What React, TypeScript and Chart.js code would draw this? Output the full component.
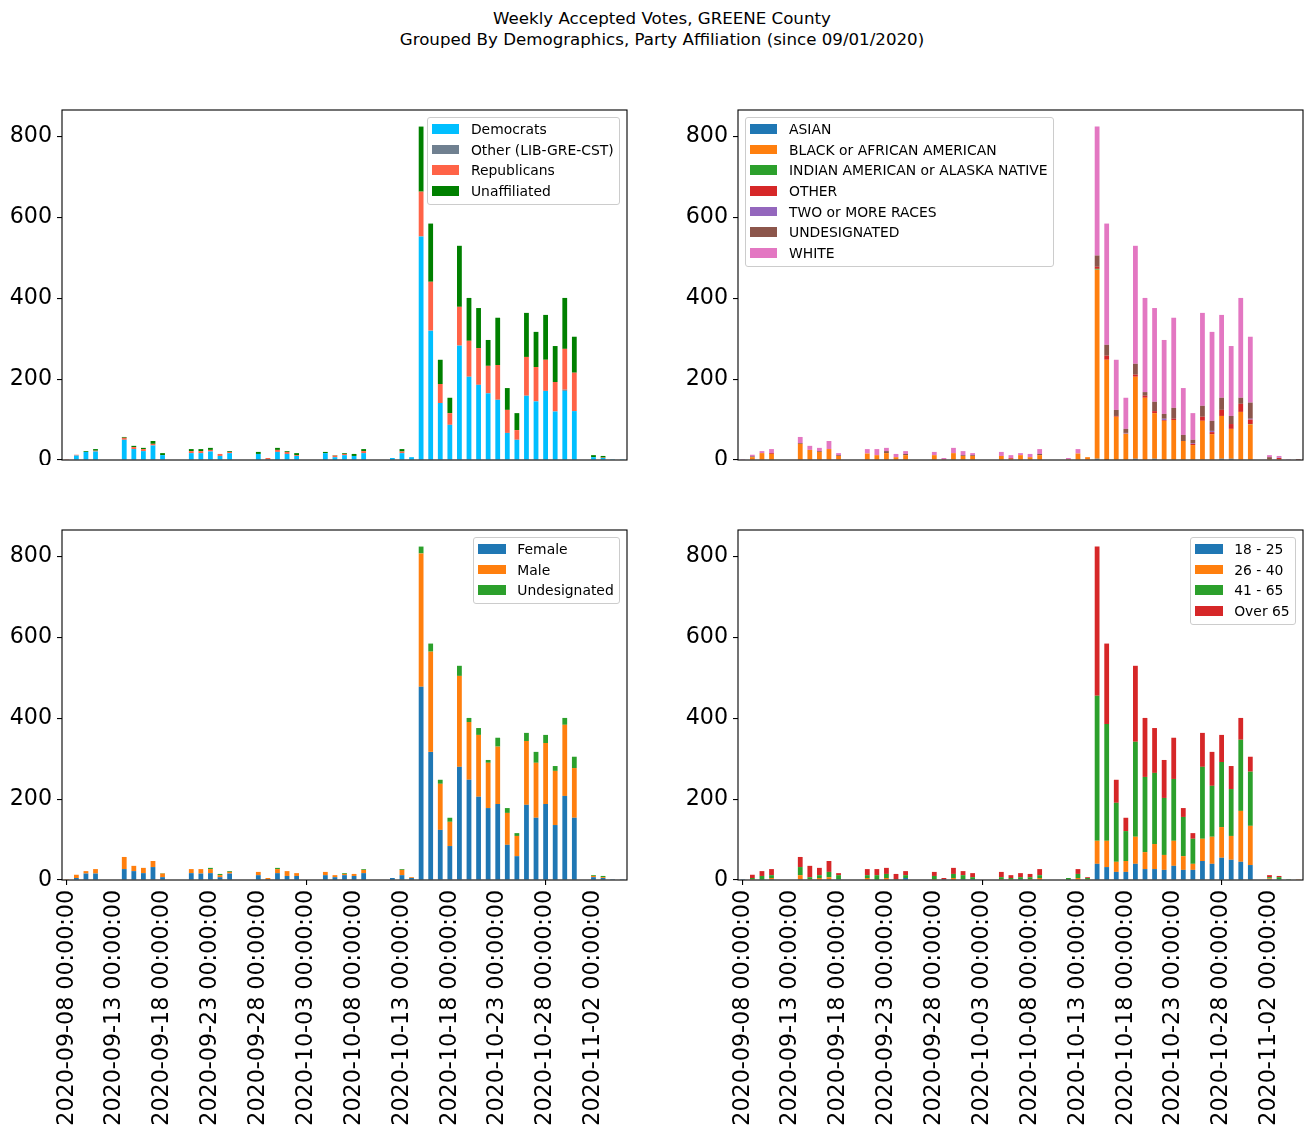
import React, { useEffect, useRef } from 'react';
import { Chart, registerables } from 'chart.js';

Chart.register(...registerables);

const FONT = 'DejaVu Sans';

const DATES = [
  '2020-09-08 00:00:00', '2020-09-09 00:00:00', '2020-09-10 00:00:00', '2020-09-11 00:00:00', '2020-09-12 00:00:00',
  '2020-09-13 00:00:00', '2020-09-14 00:00:00', '2020-09-15 00:00:00', '2020-09-16 00:00:00', '2020-09-17 00:00:00',
  '2020-09-18 00:00:00', '2020-09-19 00:00:00', '2020-09-20 00:00:00', '2020-09-21 00:00:00', '2020-09-22 00:00:00',
  '2020-09-23 00:00:00', '2020-09-24 00:00:00', '2020-09-25 00:00:00', '2020-09-26 00:00:00', '2020-09-27 00:00:00',
  '2020-09-28 00:00:00', '2020-09-29 00:00:00', '2020-09-30 00:00:00', '2020-10-01 00:00:00', '2020-10-02 00:00:00',
  '2020-10-03 00:00:00', '2020-10-04 00:00:00', '2020-10-05 00:00:00', '2020-10-06 00:00:00', '2020-10-07 00:00:00',
  '2020-10-08 00:00:00', '2020-10-09 00:00:00', '2020-10-10 00:00:00', '2020-10-11 00:00:00', '2020-10-12 00:00:00',
  '2020-10-13 00:00:00', '2020-10-14 00:00:00', '2020-10-15 00:00:00', '2020-10-16 00:00:00', '2020-10-17 00:00:00',
  '2020-10-18 00:00:00', '2020-10-19 00:00:00', '2020-10-20 00:00:00', '2020-10-21 00:00:00', '2020-10-22 00:00:00',
  '2020-10-23 00:00:00', '2020-10-24 00:00:00', '2020-10-25 00:00:00', '2020-10-26 00:00:00', '2020-10-27 00:00:00',
  '2020-10-28 00:00:00', '2020-10-29 00:00:00', '2020-10-30 00:00:00', '2020-10-31 00:00:00', '2020-11-01 00:00:00',
  '2020-11-02 00:00:00', '2020-11-03 00:00:00', '2020-11-04 00:00:00', '2020-11-05 00:00:00',
];

// Party affiliation
const DEMOCRATS = [
  0, 11, 20, 21, 0, 0, 50, 27, 22, 36,
  12, 0, 0, 17, 17, 21, 10, 17, 0, 0,
  15, 2, 20, 15, 10, 0, 0, 17, 7, 12,
  10, 17, 0, 0, 5, 17, 7, 553, 320, 141,
  87, 283, 206, 186, 165, 149, 67, 50, 159, 145,
  171, 120, 171, 121, 0, 7, 5, 2, 2,
];
const OTHER_PARTY = [
  0, 0, 0, 0, 0, 0, 0, 0, 0, 0,
  0, 0, 0, 0, 0, 0, 0, 0, 0, 0,
  0, 0, 0, 0, 0, 0, 0, 0, 0, 0,
  0, 0, 0, 0, 0, 0, 0, 0, 0, 0,
  0, 0, 0, 0, 0, 0, 0, 0, 0, 0,
  0, 0, 3, 0, 0, 0, 0, 0, 0,
];
const REPUBLICANS = [
  2, 2, 0, 2, 0, 0, 5, 5, 5, 4,
  0, 0, 0, 5, 5, 4, 5, 3, 0, 0,
  0, 3, 5, 5, 2, 0, 0, 0, 4, 3,
  0, 5, 0, 0, 0, 4, 0, 111, 121, 47,
  29, 96, 89, 91, 68, 86, 57, 24, 96, 85,
  77, 73, 101, 95, 0, 0, 1, 0, 0,
];
const UNAFFILIATED = [
  0, 0, 2, 4, 0, 0, 2, 3, 3, 7,
  5, 0, 0, 5, 5, 5, 0, 2, 0, 0,
  5, 0, 5, 2, 5, 0, 0, 3, 1, 2,
  5, 5, 0, 0, 0, 6, 0, 161, 144, 60,
  38, 151, 106, 99, 64, 117, 54, 42, 109, 87,
  111, 89, 126, 89, 0, 5, 4, 0, 0,
];

// Race
const ASIAN = [
  0, 0, 0, 0, 0, 0, 0, 0, 0, 0,
  0, 0, 0, 0, 0, 0, 0, 0, 0, 0,
  0, 0, 0, 0, 0, 0, 0, 0, 0, 0,
  0, 0, 0, 0, 0, 0, 0, 3, 1, 0,
  0, 3, 0, 3, 0, 0, 0, 0, 0, 0,
  3, 3, 0, 0, 0, 0, 0, 0, 0,
];
const BLACK = [
  0, 7, 17, 15, 0, 0, 40, 25, 20, 27,
  10, 0, 0, 16, 12, 17, 7, 12, 0, 0,
  12, 2, 17, 10, 10, 0, 0, 10, 3, 12,
  7, 12, 0, 0, 2, 16, 7, 468, 247, 107,
  65, 203, 154, 113, 97, 99, 47, 37, 97, 64,
  106, 74, 119, 88, 0, 2, 2, 0, 0,
];
const INDIAN = [
  0, 0, 0, 0, 0, 0, 0, 0, 0, 0,
  0, 0, 0, 0, 0, 0, 0, 0, 0, 0,
  0, 0, 0, 0, 0, 0, 0, 0, 0, 0,
  0, 0, 0, 0, 0, 0, 0, 2, 0, 0,
  0, 0, 0, 0, 0, 0, 0, 0, 0, 0,
  0, 0, 0, 1, 0, 0, 0, 0, 0,
];
const OTHER_RACE = [
  0, 0, 0, 2, 0, 0, 0, 0, 0, 0,
  0, 0, 0, 0, 0, 0, 0, 0, 0, 0,
  0, 0, 0, 0, 0, 0, 0, 0, 2, 0,
  0, 0, 0, 0, 0, 0, 0, 5, 10, 2,
  0, 5, 5, 5, 2, 3, 0, 3, 10, 5,
  15, 12, 20, 11, 0, 0, 3, 0, 1,
];
const TWO_OR_MORE = [
  0, 0, 0, 0, 0, 0, 0, 0, 0, 0,
  0, 0, 0, 0, 0, 0, 0, 0, 0, 0,
  0, 0, 0, 0, 0, 0, 0, 0, 0, 0,
  0, 0, 0, 0, 0, 0, 0, 0, 0, 0,
  2, 0, 0, 0, 3, 0, 0, 2, 0, 3,
  0, 0, 0, 2, 0, 0, 1, 0, 0,
];
const UNDESIGNATED_RACE = [
  0, 2, 0, 0, 0, 0, 2, 0, 2, 0,
  2, 0, 0, 0, 0, 5, 0, 3, 0, 0,
  0, 0, 0, 2, 2, 0, 0, 0, 0, 0,
  0, 3, 0, 0, 0, 0, 0, 28, 27, 15,
  10, 27, 9, 23, 12, 27, 15, 8, 27, 25,
  30, 20, 15, 40, 0, 5, 0, 0, 1,
];
const WHITE = [
  2, 4, 5, 10, 0, 0, 15, 10, 8, 20,
  5, 0, 0, 11, 15, 8, 8, 7, 0, 0,
  8, 3, 13, 10, 5, 0, 0, 10, 7, 5,
  8, 12, 0, 0, 3, 11, 0, 319, 300, 124,
  77, 292, 233, 232, 183, 223, 116, 66, 230, 220,
  205, 173, 247, 163, 0, 5, 4, 2, 0,
];

// Gender
const FEMALE = [
  0, 5, 16, 16, 0, 0, 27, 22, 17, 32,
  7, 0, 0, 17, 16, 17, 7, 16, 0, 0,
  12, 2, 17, 10, 10, 0, 0, 12, 7, 12,
  10, 17, 0, 0, 5, 12, 5, 478, 317, 124,
  84, 280, 248, 206, 178, 188, 87, 59, 186, 154,
  188, 136, 208, 154, 0, 7, 5, 2, 2,
];
const MALE = [
  2, 8, 6, 11, 0, 0, 30, 13, 13, 15,
  9, 0, 0, 10, 11, 10, 5, 4, 0, 0,
  8, 3, 10, 12, 7, 0, 0, 8, 5, 3,
  5, 8, 0, 0, 0, 13, 2, 330, 248, 114,
  60, 225, 143, 153, 112, 142, 79, 50, 158, 136,
  151, 134, 176, 123, 0, 3, 2, 0, 0,
];
const UNDESIGNATED_GENDER = [
  0, 0, 0, 0, 0, 0, 0, 0, 0, 0,
  1, 0, 0, 0, 0, 3, 3, 2, 0, 0,
  0, 0, 3, 0, 0, 0, 0, 0, 0, 2,
  0, 2, 0, 0, 0, 2, 0, 17, 20, 10,
  10, 25, 10, 17, 7, 22, 12, 7, 20, 27,
  20, 12, 17, 28, 0, 2, 3, 0, 0,
];

// Age
const AGE_18_25 = [
  2, 0, 0, 2, 0, 0, 2, 0, 0, 2,
  2, 0, 0, 0, 0, 0, 0, 5, 0, 0,
  0, 2, 0, 2, 2, 0, 0, 0, 0, 2,
  0, 0, 0, 0, 0, 0, 0, 40, 32, 20,
  20, 40, 27, 27, 25, 35, 25, 25, 47, 40,
  55, 50, 45, 37, 0, 2, 2, 0, 0,
];
const AGE_26_40 = [
  0, 2, 0, 3, 0, 0, 10, 2, 5, 5,
  0, 0, 0, 5, 0, 5, 0, 0, 0, 0,
  2, 0, 5, 0, 0, 0, 0, 2, 2, 0,
  2, 5, 0, 0, 0, 5, 2, 57, 65, 25,
  27, 67, 42, 62, 37, 62, 34, 15, 55, 67,
  76, 59, 126, 97, 0, 2, 0, 0, 2,
];
const AGE_41_65 = [
  0, 3, 10, 7, 0, 0, 20, 5, 7, 13,
  10, 0, 0, 7, 12, 10, 2, 7, 0, 0,
  8, 0, 10, 10, 5, 0, 0, 5, 3, 5,
  5, 7, 0, 0, 5, 10, 3, 359, 289, 146,
  74, 235, 186, 176, 141, 153, 97, 62, 178, 126,
  161, 116, 176, 134, 0, 3, 5, 2, 0,
];
const AGE_OVER_65 = [
  0, 8, 12, 15, 0, 0, 25, 28, 18, 27,
  5, 0, 0, 15, 15, 15, 13, 10, 0, 0,
  10, 3, 15, 10, 10, 0, 0, 13, 7, 10,
  8, 15, 0, 0, 0, 12, 2, 369, 199, 57,
  33, 188, 146, 111, 94, 102, 22, 14, 84, 84,
  67, 57, 54, 37, 0, 5, 3, 0, 0,
];

const Y_MAX = 866;
const Y_STEP = 200;

type Series = { label: string; color: string; data: number[] };

const PARTY: Series[] = [
  { label: 'Democrats', color: '#00bfff', data: DEMOCRATS },
  { label: 'Other (LIB-GRE-CST)', color: '#708090', data: OTHER_PARTY },
  { label: 'Republicans', color: '#ff6347', data: REPUBLICANS },
  { label: 'Unaffiliated', color: '#008000', data: UNAFFILIATED },
];
const RACE: Series[] = [
  { label: 'ASIAN', color: '#1f77b4', data: ASIAN },
  { label: 'BLACK or AFRICAN AMERICAN', color: '#ff7f0e', data: BLACK },
  { label: 'INDIAN AMERICAN or ALASKA NATIVE', color: '#2ca02c', data: INDIAN },
  { label: 'OTHER', color: '#d62728', data: OTHER_RACE },
  { label: 'TWO or MORE RACES', color: '#9467bd', data: TWO_OR_MORE },
  { label: 'UNDESIGNATED', color: '#8c564b', data: UNDESIGNATED_RACE },
  { label: 'WHITE', color: '#e377c2', data: WHITE },
];
const GENDER: Series[] = [
  { label: 'Female', color: '#1f77b4', data: FEMALE },
  { label: 'Male', color: '#ff7f0e', data: MALE },
  { label: 'Undesignated', color: '#2ca02c', data: UNDESIGNATED_GENDER },
];
const AGE: Series[] = [
  { label: '18 - 25', color: '#1f77b4', data: AGE_18_25 },
  { label: '26 - 40', color: '#ff7f0e', data: AGE_26_40 },
  { label: '41 - 65', color: '#2ca02c', data: AGE_41_65 },
  { label: 'Over 65', color: '#d62728', data: AGE_OVER_65 },
];

const framePlugin = {
  id: 'frame',
  afterDraw(chart: any) {
    const { ctx, chartArea: a } = chart;
    ctx.save();
    ctx.strokeStyle = '#000';
    ctx.lineWidth = 1.1;
    ctx.strokeRect(a.left, a.top, a.right - a.left, a.bottom - a.top);
    ctx.restore();
  },
};

function Panel({ series, showX, left, top }: { series: Series[]; showX: boolean; left: number; top: number }) {
  const ref = useRef<HTMLCanvasElement>(null);
  const height = showX ? 617 : 365;
  useEffect(() => {
    const chart = new Chart(ref.current as HTMLCanvasElement, {
      type: 'bar',
      data: {
        labels: DATES,
        datasets: series.map((s) => ({
          label: s.label,
          data: s.data,
          backgroundColor: s.color,
          borderWidth: 0,
          barPercentage: 0.5,
          categoryPercentage: 1.0,
        })),
      },
      options: {
        responsive: false,
        animation: false,
        layout: { padding: { left: 0, right: 5, top: 10, bottom: showX ? 0 : 5 } },
        plugins: {
          legend: { display: false },
          tooltip: { enabled: false },
        },
        scales: {
          x: {
            stacked: true,
            display: showX,
            offset: true,
            border: { display: false },
            grid: {
              display: true,
              drawOnChartArea: false,
              drawTicks: true,
              tickLength: 5,
              offset: false,
              lineWidth: 1.1,
              color: (c: any) => (c.index % 5 === 0 ? '#000' : 'rgba(0,0,0,0)'),
            },
            ticks: {
              autoSkip: false,
              maxRotation: 90,
              minRotation: 90,
              padding: 5,
              color: '#000',
              font: { family: FONT, size: 22.2 },
              callback: (_v: any, i: number) => (i % 5 === 0 ? DATES[i] : null),
            },
            afterFit: (s: any) => {
              s.height = showX ? 257 : 0;
              s.paddingLeft = 0;
              s.paddingRight = 0;
            },
          },
          y: {
            stacked: true,
            min: 0,
            max: Y_MAX,
            border: { display: false },
            grid: {
              display: true,
              drawOnChartArea: false,
              drawTicks: true,
              tickLength: 5,
              lineWidth: 1.1,
              color: '#000',
            },
            ticks: {
              stepSize: Y_STEP,
              includeBounds: false,
              padding: 5,
              color: '#000',
              font: { family: FONT, size: 22.2 },
            },
            afterFit: (s: any) => {
              s.width = 62;
              s.paddingTop = 0;
              s.paddingBottom = 0;
            },
          },
        },
      } as any,
      plugins: [framePlugin],
    });
    return () => chart.destroy();
  }, []);
  return (
    <canvas
      ref={ref}
      width={632}
      height={height}
      style={{ position: 'absolute', left, top, width: 632, height }}
    />
  );
}

function Legend({ items, pos }: { items: Series[]; pos: React.CSSProperties }) {
  return (
    <div
      style={{
        position: 'absolute',
        ...pos,
        boxSizing: 'border-box',
        border: '1px solid #cccccc',
        borderRadius: 3,
        background: 'rgba(255,255,255,0.8)',
        padding: '0.67px 5.3px 2.66px 3.6px',
        fontFamily: FONT,
        fontSize: 13.9,
        color: '#000',
        whiteSpace: 'nowrap',
      }}
    >
      {items.map((s) => (
        <div key={s.label} style={{ height: 20.67, display: 'flex', alignItems: 'center' }}>
          <span
            style={{ display: 'inline-block', width: 27.8, height: 9.7, background: s.color, marginRight: 11.6, flex: 'none' }}
          />
          <span style={{ lineHeight: '16px' }}>{s.label}</span>
        </div>
      ))}
    </div>
  );
}

export default function App() {
  return (
    <div
      style={{
        position: 'absolute',
        left: 0,
        top: 0,
        width: 1312,
        height: 1137,
        background: '#fff',
        overflow: 'hidden',
        fontFamily: FONT,
      }}
    >
      <div
        style={{
          position: 'absolute',
          top: 7.5,
          left: 0,
          width: 1324,
          textAlign: 'center',
          fontSize: 16.67,
          lineHeight: '21px',
          color: '#000',
        }}
      >
        <div>Weekly Accepted Votes, GREENE County</div>
        <div>Grouped By Demographics, Party Affiliation (since 09/01/2020)</div>
      </div>
      <Panel series={PARTY} showX={false} left={0} top={100} />
      <Panel series={RACE} showX={false} left={676} top={100} />
      <Panel series={GENDER} showX={true} left={0} top={520} />
      <Panel series={AGE} showX={true} left={676} top={520} />
      <Legend items={PARTY} pos={{ right: 692, top: 117 }} />
      <Legend items={RACE} pos={{ left: 745, top: 117 }} />
      <Legend items={GENDER} pos={{ right: 692, top: 537 }} />
      <Legend items={AGE} pos={{ right: 16, top: 537 }} />
    </div>
  );
}
